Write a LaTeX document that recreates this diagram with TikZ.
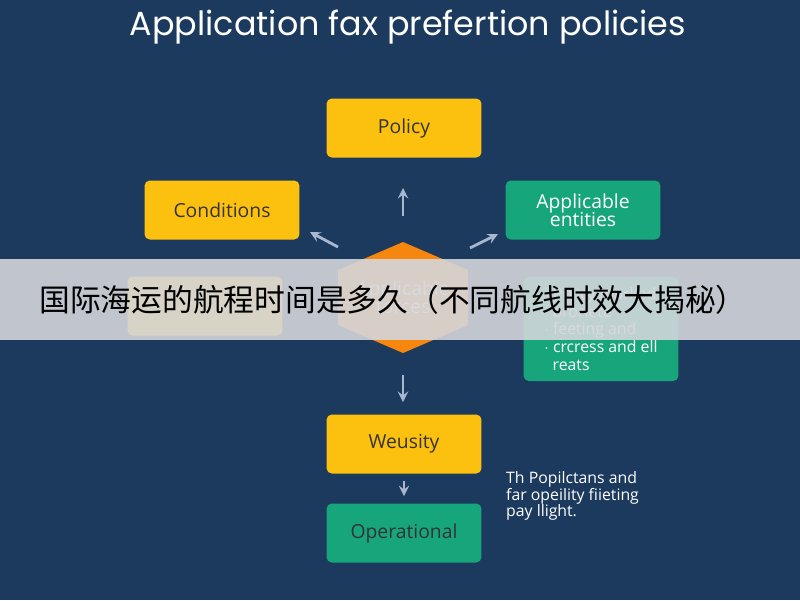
\documentclass[tikz,border=0pt]{standalone}
\usepackage{fontspec}
\setmainfont{Open Sans}
\newfontfamily\titlefont{Poppins}
\newfontfamily\cjk{Noto Sans CJK SC}
\usetikzlibrary{positioning}
\definecolor{bgblue}{HTML}{1C3A5E}
\definecolor{boxyellow}{HTML}{FCC10F}
\definecolor{boxgreen}{HTML}{17A57C}
\definecolor{hexorange}{HTML}{F5870F}
\definecolor{arrowgray}{HTML}{A8B6CE}
\definecolor{bandgray}{HTML}{D3D6DB}
\tikzset{
  card/.style={rounded corners=3pt, minimum width=3.1cm, minimum height=1.18cm, align=center, font=\fontsize{11}{13}\selectfont, text=black!80},
  ycard/.style={card, fill=boxyellow},
  gcard/.style={card, fill=boxgreen},
  flow/.style={->, >=stealth, arrowgray, line width=1.6pt}
}
\begin{document}
\begin{tikzpicture}[x=0.02cm, y=-0.02cm]
    \fill[bgblue](0,0) rectangle(800,600);
    \node[white, font=\titlefont\fontsize{19}{21}\selectfont] (title) at (408,27) {Application fax prefertion policies};
    % boxes
    \node[ycard] (policy) at (404,128) {Policy};
    \node[ycard] (cond) at (222,210) {Conditions};
    \node[gcard, text=white] (entities) at (583,210) {Applicable\\[-3pt] entities};
    \node[ycard] (left) at (205,306) {};
    \node[gcard, minimum height=2.08cm, align=left, text=white, font=\fontsize{9}{10}\selectfont] (marked) at (601,329)
        {$\cdot$ Policy marked\\ \ \ brorlete\\ $\cdot$ feeting and\\ $\cdot$ crcress and ell\\ \ \ reats};
    \fill[hexorange](403,242)--(468,270)--(468,325)--(403,353)--(338,325)--(338,270)--cycle;
    \node[white, align=center, font=\fontsize{11}{13}\selectfont] (hex) at (403,297) {Applicable\\[-3pt] forces};
    \node[ycard] (weusity) at (404,444) {Weusity};
    \node[gcard] (oper) at (404,533) {Operational};
    \node[white, align=left, anchor=north west, font=\fontsize{9}{9}\selectfont] (note) at (500,465)
        {Th Popilctans and\\ far opeility fiieting\\ pay llight.};
    % arrows
    \coordinate (uptail) at (403,216); \coordinate (uphead) at (403,188);
    \coordinate (nwtail) at (338,247); \coordinate (nwhead) at (310,232);
    \coordinate (netail) at (470,248); \coordinate (nehead) at (498,234);
    \coordinate (dntail) at (403,375); \coordinate (dnhead) at (403,402);
    \draw[flow] (uptail) -- (uphead);
    \draw[flow] (nwtail) -- (nwhead);
    \draw[flow] (netail) -- (nehead);
    \draw[flow] (dntail) -- (dnhead);
    \draw[flow, shorten <=4pt, shorten >=4pt] (weusity) -- (oper);
    % band
    \fill[bandgray, opacity=0.9](0,259) rectangle(800,340);
    \node[black, font=\cjk\fontsize{17.5}{21}\selectfont] (band) at (393,300) {国际海运的航程时间是多久（不同航线时效大揭秘）};
\end{tikzpicture}
\end{document}
